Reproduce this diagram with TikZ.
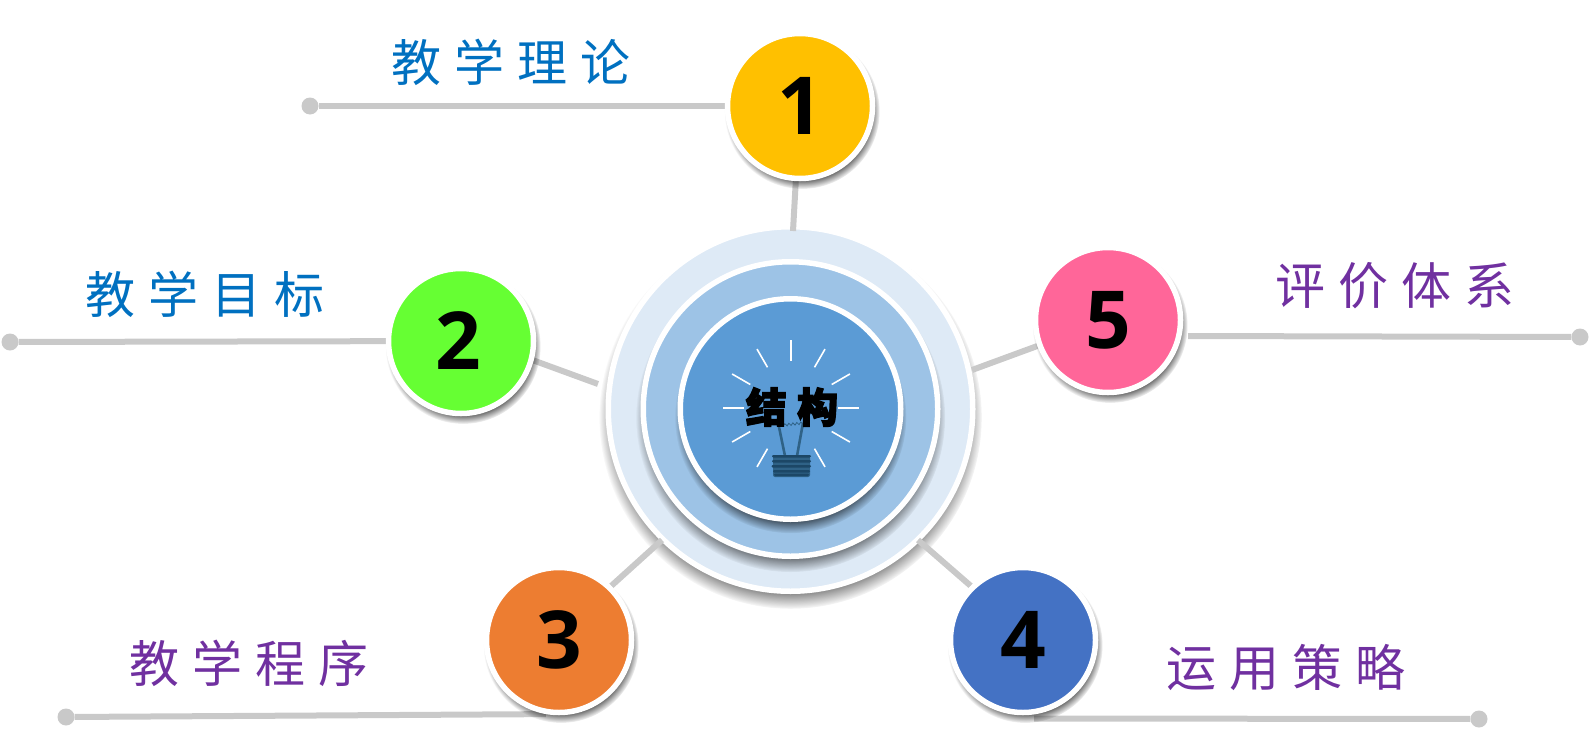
\documentclass[tikz,border=0pt]{standalone}
\usepackage{fontspec}
\usepackage{xcolor}
\usetikzlibrary{backgrounds,calc,shadows,fadings,decorations.pathmorphing}
\newfontfamily\cjkfont[WordSpace=1.16]{Noto Sans CJK SC}
\newfontfamily\heavyfont[WordSpace=1.1,FakeBold=3]{Noto Sans CJK SC Black}
\newfontfamily\numfont{Open Sans}[BoldFont=* Bold]
\definecolor{linegray}{HTML}{C9C9C9}
\definecolor{titleblue}{HTML}{0070C0}
\definecolor{titlepurple}{HTML}{7030A0}
\definecolor{bulbdark}{HTML}{1C4766}
\definecolor{bulbmid}{HTML}{2F6286}
\tikzset{
  softshadow/.style={drop shadow={shadow xshift=2pt,shadow yshift=-5pt,shadow scale=1.07,
    fill=black,opacity=.75,path fading=circle with fuzzy edge 15 percent}},
  ringshadow/.style={drop shadow={shadow xshift=0pt,shadow yshift=-8pt,shadow scale=1.05,
    fill=black,opacity=.8,path fading=circle with fuzzy edge 15 percent}},
  ball/.style={circle,draw=white,line width=5.5pt,minimum size=145pt,inner sep=0pt,
    softshadow,text=black,font=\numfont\bfseries\fontsize{80}{80}\selectfont},
  ring/.style={circle,draw=white,line width=5.5pt,inner sep=0pt,ringshadow},
  dot/.style={circle,fill=linegray,minimum size=17pt,inner sep=0pt},
  link/.style={linegray,line width=6pt},
  title/.style={font=\cjkfont\fontsize{50}{50}\selectfont},
  ray/.style={white,line width=1.6pt}
}
\begin{document}
\begin{tikzpicture}[x=1pt,y=-1pt]
  \useasboundingbox (0,0) rectangle (1590,739);

  \node[ball,fill={rgb,255:red,255;green,192;blue,0}] (n1) at (800,106) {1};
  \node[ball,fill={rgb,255:red,102;green,255;blue,51}] (n2) at (461,341) {\hspace{-6pt}2};
  \node[ball,fill={rgb,255:red,237;green,125;blue,49}] (n3) at (559,640) {3};
  \node[ball,fill={rgb,255:red,68;green,114;blue,196}] (n4) at (1023,640) {4};
  \node[ball,fill={rgb,255:red,255;green,102;blue,153}] (n5) at (1108,320) {5};

  \node[dot] (d1) at (310,106) {};
  \node[dot] (d2) at (10,342) {};
  \node[dot] (d3) at (66,717) {};
  \node[dot] (d4) at (1479,719) {};
  \node[dot] (d5) at (1580,337) {};

  \coordinate (e1) at (793,231);
  \coordinate (e2) at (598,384);
  \coordinate (e3) at (662,540);
  \coordinate (e4) at (918,540);
  \coordinate (e5) at (972,370);
  \coordinate (s4) at (1034,718.5);
  \coordinate (s5) at (1188,336);

  \begin{scope}[on background layer]
    \node[ring,minimum size=364.5pt,fill={rgb,255:red,222;green,234;blue,246}] (r3) at (790.5,409) {};
    \node[ring,minimum size=294.5pt,fill={rgb,255:red,157;green,195;blue,230}] (r2) at (790.5,409) {};
    \node[ring,minimum size=220.5pt,fill={rgb,255:red,91;green,155;blue,213}] (r1) at (790.5,409) {};
    \foreach \from/\to in {d1/n1,d2/n2,d3/n3.-100,d4/s4,d5/s5,n1/e1,n2.-15/e2,n3.46/e3,n4.134/e4,n5/e5}
      \draw[link] (\from) -- (\to);
  \end{scope}

  % bulb
  \coordinate (bc) at (791,408);
  \foreach \a in {90,60,30,0,-30,-60,-120,-150,180,150,120}
    \draw[ray] ($(bc)+(\a:47pt)$) -- ($(bc)+(\a:68pt)$);
  \draw[bulbmid,line width=2.6pt] (779,427) -- (785,456);
  \draw[bulbmid,line width=2.6pt] (803,423) -- (797,456);
  \draw[bulbmid,line width=.8pt,decorate,decoration={zigzag,amplitude=1.2pt,segment length=4pt}] (784,425) -- (803,423);
  \fill[bulbmid,rounded corners=2pt] (773,456) rectangle (810,477);
  \foreach \y/\l/\r in {455/772/811,460/772/811,465/771.5/811,470/773/810,473.5/774/809}
    \fill[bulbdark,rounded corners=1.2pt] (\l,\y) rectangle (\r,\y+2.6);

  \node[text=black,font=\heavyfont\fontsize{41}{41}\selectfont] (t0) at (792,407) {结 构};

  \node[title,text=titleblue] (t1) at (511,62) {教 学 理 论};
  \node[title,text=titleblue] (t2) at (205,294) {教 学 目 标};
  \node[title,text=titlepurple] (t3) at (249,663) {教 学 程 序};
  \node[title,text=titlepurple] (t4) at (1286,668) {运 用 策 略};
  \node[title,text=titlepurple] (t5) at (1395,286) {评 价 体 系};
\end{tikzpicture}
\end{document}
